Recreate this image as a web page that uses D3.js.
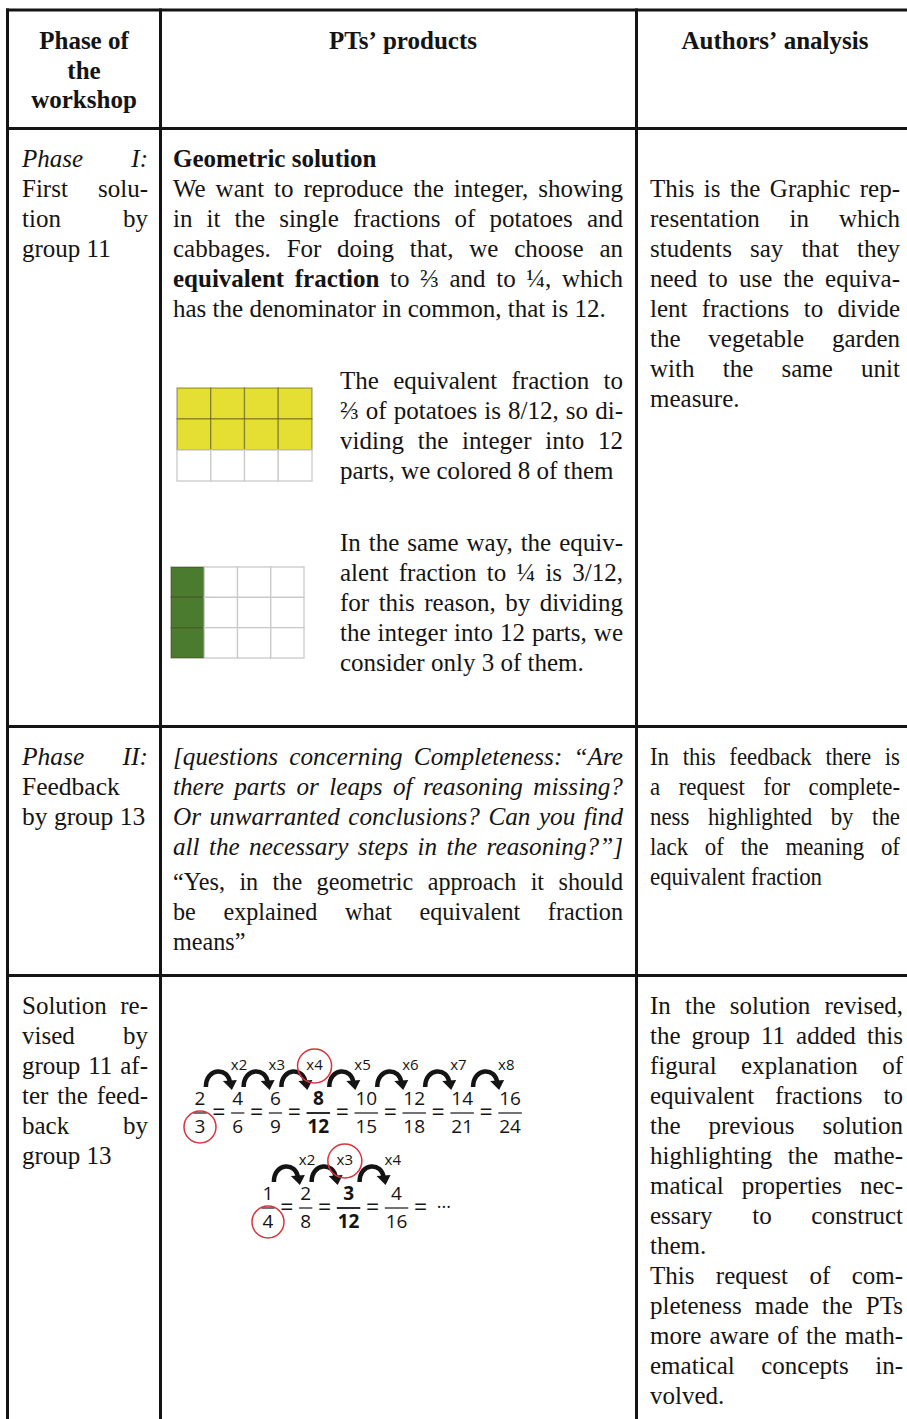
<!DOCTYPE html>
<html><head><meta charset="utf-8">
<script src="https://cdn.jsdelivr.net/npm/d3@7"></script>
<style>body{margin:0;background:#fff}svg{display:block}</style>
</head><body>
<svg id="c" width="907" height="1419"></svg>
<script>
// ---------------- DATA ----------------
const headPhase = ["Phase of", "the", "workshop"];
const headProducts = ["PTs’ products"];
const headAnalysis = ["Authors’ analysis"];

const r1Phase = [["_Phase I:_", "First solu-", "tion by", "group 11"]];
const r1Geom = [["**Geometric solution**"],
  ["We want to reproduce the integer, showing",
   "in it the single fractions of potatoes and",
   "cabbages. For doing that, we choose an",
   "**equivalent fraction** to ⅔ and to ¼, which",
   "has the denominator in common, that is 12."]];
const r1Potato = [["The equivalent fraction to",
   "⅔ of potatoes is 8/12, so di-",
   "viding the integer into 12",
   "parts, we colored 8 of them"]];
const r1Cabbage = [["In the same way, the equiv-",
   "alent fraction to ¼ is 3/12,",
   "for this reason, by dividing",
   "the integer into 12 parts, we",
   "consider only 3 of them."]];
const r1Analysis = [["This is the Graphic rep-", "resentation in which", "students say that they",
   "need to use the equiva-", "lent fractions to divide", "the vegetable garden",
   "with the same unit", "measure."]];

const r2Phase = [["_Phase II:_", "Feedback", "by group 13"]];
const r2Questions = [["[questions concerning Completeness: “Are",
   "there parts or leaps of reasoning missing?",
   "Or unwarranted conclusions? Can you find",
   "all the necessary steps in the reasoning?”]"]];
const r2Answer = [["“Yes, in the geometric approach it should",
   "be explained what equivalent fraction",
   "means”"]];
const r2Analysis = [["In this feedback there is", "a request for complete-", "ness highlighted by the",
   "lack of the meaning of", "equivalent fraction"]];

const r3Phase = [["Solution re-", "vised by", "group 11 af-", "ter the feed-", "back by", "group 13"]];
const r3Analysis = [["In the solution revised,", "the group 11 added this", "figural explanation of",
   "equivalent fractions to", "the previous solution", "highlighting the mathe-",
   "matical properties nec-", "essary to construct", "them."],
  ["This request of com-", "pleteness made the PTs", "more aware of the math-",
   "ematical concepts in-", "volved."]];

// fraction figures
const potato = {num: 8, den: 12, cols: 4, rows: 3};
const cabbage = {num: 3, den: 12, cols: 4, rows: 3};
const fracA = [[2,3],[4,6],[6,9],[8,12],[10,15],[12,18],[14,21],[16,24]];
const multA = [2,3,4,5,6,7,8];
const fracB = [[1,4],[2,8],[3,12],[4,16]];
const multB = [2,3,4];

// ---------------- LAYOUT ----------------
const svg = d3.select("#c");
const SERIF = "\"Liberation Serif\", serif";
const SANS = "\"Open Sans\", \"Noto Sans\", sans-serif";
const INK = "#141414";

// table rules
const vLines = [7.5, 160.5, 636.5];
const hLines = [10, 128.5, 726.5, 975.5];
svg.selectAll("line.v").data(vLines).join("line").attr("class", "v")
  .attr("x1", d => d).attr("x2", d => d).attr("y1", 8.5).attr("y2", 1419)
  .attr("stroke", INK).attr("stroke-width", 3);
svg.selectAll("line.h").data(hLines).join("line").attr("class", "h")
  .attr("x1", 6).attr("x2", 907).attr("y1", d => d).attr("y2", d => d)
  .attr("stroke", INK).attr("stroke-width", 3);

function tokenize(line, cellItalic) {
  let bold = false, italic = false;
  return line.split(" ").map(w => {
    if (w.startsWith("**")) { bold = true; w = w.slice(2); }
    if (w.startsWith("_")) { italic = true; w = w.slice(1); }
    let endB = false, endI = false;
    if (w.endsWith("**")) { endB = true; w = w.slice(0, -2); }
    if (w.endsWith("_")) { endI = true; w = w.slice(0, -1); }
    const tok = {t: w, bold, italic: italic || cellItalic};
    if (endB) bold = false;
    if (endI) italic = false;
    return tok;
  });
}

function drawCell(c) {
  const sx = c.sx || 1;
  const g = svg.append("g").attr("transform", `translate(${c.x0},0) scale(${sx},1)`);
  const W = (c.x1 - c.x0) / sx;
  let y = c.y;
  c.paras.forEach((para, pi) => {
    para.forEach((line, k) => {
      const toks = tokenize(line, c.italic);
      const nodes = toks.map(t => g.append("text")
        .attr("y", y).attr("font-size", c.size)
        .style("font-family", SERIF)
        .style("font-weight", t.bold || c.bold ? "bold" : "normal")
        .style("font-style", t.italic ? "italic" : "normal")
        .attr("fill", INK).text(t.t));
      const widths = nodes.map(n => n.node().getComputedTextLength());
      const sum = d3.sum(widths);
      const justify = (k < para.length - 1 || c.justifyLast) && toks.length > 1 && !c.center;
      let gap = c.size * 0.25;
      if (justify) gap = (W - sum) / (toks.length - 1);
      let x = 0;
      if (c.center) x = ((c.cx - c.x0) / sx) - (sum + gap * (toks.length - 1)) / 2;
      nodes.forEach((n, i) => { n.attr("x", x); x += widths[i] + gap; });
      y += c.lh;
    });
  });
}

const cells = [
  {paras: [headPhase], x0: 0, cx: 84, y: 49, lh: 29.5, size: 25, bold: true, center: true},
  {paras: [headProducts], x0: 0, cx: 403, y: 49, lh: 30, size: 25, bold: true, center: true},
  {paras: [headAnalysis], x0: 0, cx: 775, y: 49, lh: 30, size: 25, bold: true, center: true},
  {paras: r1Phase, x0: 22, x1: 148, y: 167, lh: 30, size: 25},
  {paras: r1Geom, x0: 173, x1: 623, y: 167, lh: 30, size: 25},
  {paras: r1Potato, x0: 340, x1: 623, y: 389, lh: 30, size: 25},
  {paras: r1Cabbage, x0: 340, x1: 623, y: 551, lh: 30, size: 25},
  {paras: r1Analysis, x0: 650, x1: 900, y: 197, lh: 30, size: 25},
  {paras: r2Phase, x0: 22, x1: 148, y: 765, lh: 30, size: 25.5},
  {paras: r2Questions, x0: 173, x1: 623, y: 765, lh: 30, size: 26, sx: 0.97, italic: true, justifyLast: true},
  {paras: r2Answer, x0: 173, x1: 623, y: 890, lh: 30, size: 26, sx: 0.93},
  {paras: r2Analysis, x0: 650, x1: 900, y: 765, lh: 30, size: 26, sx: 0.88},
  {paras: r3Phase, x0: 22, x1: 148, y: 1014, lh: 30, size: 25},
  {paras: r3Analysis, x0: 650, x1: 903, y: 1014, lh: 30, size: 25}
];
cells.forEach(drawCell);

// ---------- area-model grids ----------
function drawGrid(spec, box, order, color) {
  const xs = d3.scaleBand().domain(d3.range(spec.cols)).range([box.x0, box.x1]);
  const ys = d3.scaleBand().domain(d3.range(spec.rows)).range([box.y0, box.y1]);
  const cellsData = d3.range(spec.den).map(i => {
    const col = order === "row" ? i % spec.cols : Math.floor(i / spec.rows);
    const row = order === "row" ? Math.floor(i / spec.cols) : i % spec.rows;
    return {col, row, on: i < spec.num};
  });
  const g = svg.append("g");
  g.selectAll("rect").data(cellsData).join("rect")
    .attr("x", d => xs(d.col)).attr("y", d => ys(d.row))
    .attr("width", xs.bandwidth()).attr("height", ys.bandwidth())
    .attr("fill", d => d.on ? color : "#fff")
    .attr("stroke", d => d.on ? "rgba(60,60,20,0.45)" : "#c9c9c9")
    .attr("stroke-width", 1.3);
}
drawGrid(potato, {x0: 177, x1: 312, y0: 388, y1: 481}, "row", "#e6df33");
drawGrid(cabbage, {x0: 171, x1: 304, y0: 567, y1: 658}, "col", "#4b7b2e");

// ---------- equivalent fraction chains ----------
const RED = "#d9343c";
function drawChain(fracs, mults, startCx, base, trailing) {
  const g = svg.append("g");
  const digitW = 10.2, gapU = 2.4;
  const widthU = f => String(f[1]).length + 0.3;
  const centersU = [];
  let u = 0;
  fracs.forEach((f, i) => { if (i > 0) u += gapU; centersU.push(u + widthU(f) / 2); u += widthU(f); });
  const x0 = startCx - centersU[0] * digitW;
  const x = d3.scaleLinear().domain([0, 1]).range([x0, x0 + digitW]);
  const barY = base + 8, denBase = base + 28;
  const eqU = [];
  fracs.forEach((f, i) => {
    const cx = x(centersU[i]);
    const w = widthU(f) * digitW;
    const bold = f[1] === 12;
    g.append("text").attr("x", cx).attr("y", base).attr("text-anchor", "middle")
      .style("font-family", SANS).attr("font-size", 19).style("font-weight", bold ? "bold" : "normal")
      .attr("fill", INK).text(f[0]);
    g.append("line").attr("x1", cx - w / 2).attr("x2", cx + w / 2).attr("y1", barY).attr("y2", barY)
      .attr("stroke", INK).attr("stroke-width", bold ? 1.8 : 1.2);
    g.append("text").attr("x", cx).attr("y", denBase).attr("text-anchor", "middle")
      .style("font-family", SANS).attr("font-size", 19).style("font-weight", bold ? "bold" : "normal")
      .attr("fill", INK).text(f[1]);
    if (i < fracs.length - 1 || trailing) eqU.push(centersU[i] + widthU(f) / 2 + gapU / 2);
  });
  eqU.forEach(e => {
    g.append("text").attr("x", x(e)).attr("y", barY + 7).attr("text-anchor", "middle")
      .style("font-family", SANS).attr("font-size", 23).attr("fill", INK).text("=");
  });
  if (trailing) {
    g.append("text").attr("x", x(eqU[eqU.length - 1] + gapU / 2) + 4).attr("y", barY + 5)
      .style("font-family", SANS).attr("font-size", 18).attr("fill", INK).text(trailing);
  }
  mults.forEach((m, i) => {
    const cx = x(eqU[i]) + 1;
    const L = cx - 14, R = cx + 14;
    const yb = base - 18, yt = base - 35;
    g.append("path")
      .attr("d", `M${L},${yb} C${L},${yt - 3} ${R - 5},${yt - 3} ${R - 4},${yb - 4}`)
      .attr("fill", "none").attr("stroke", INK).attr("stroke-width", 4.5);
    g.append("path")
      .attr("d", `M${R - 11},${yb - 6} L${R + 3},${yb - 7} L${R - 2},${yb + 3} Z`)
      .attr("fill", INK);
    const lab = g.append("text").attr("x", R - 3).attr("y", base - 35)
      .style("font-family", SANS).attr("font-size", 15).attr("fill", INK).text("x" + m);
    if (m * fracs[0][1] === 12) {
      const lw = lab.node().getComputedTextLength();
      g.append("circle").attr("cx", R - 3 + lw / 2).attr("cy", base - 39).attr("r", 17)
        .attr("fill", "none").attr("stroke", RED).attr("stroke-width", 1.5);
    }
  });
  g.append("circle").attr("cx", x(centersU[0])).attr("cy", denBase - 6).attr("r", 16)
    .attr("fill", "none").attr("stroke", RED).attr("stroke-width", 1.5);
}
drawChain(fracA, multA, 200, 1105, null);
drawChain(fracB, multB, 268, 1200, "···");
</script>
</body></html>
